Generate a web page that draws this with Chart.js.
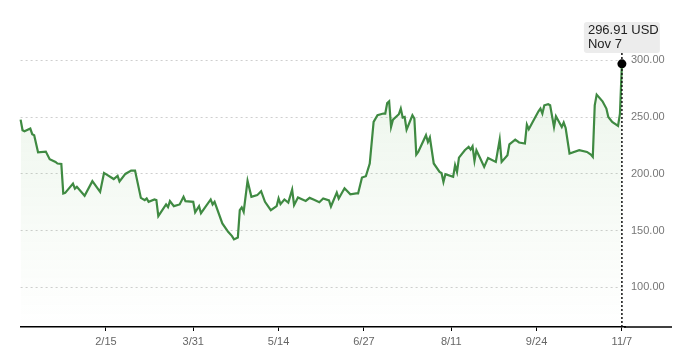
<!DOCTYPE html>
<html>
<head>
<meta charset="utf-8">
<script src="https://cdn.jsdelivr.net/npm/chart.js@4.4.1/dist/chart.umd.min.js"></script>
<style>
  html, body { margin: 0; padding: 0; background: #ffffff; }
  #wrap { width: 680px; height: 360px; position: relative; }
</style>
</head>
<body>
<div id="wrap"><canvas id="c" width="680" height="360"></canvas></div>
<script>
// Day index: days since Jan 1 (Jan 1 = 0)
const days = [1,2,3,6,7,8,10,14,16,19,20,22,23,24,28,29,30,34,38,42,44,49,51,52,55,58,60,63,65,66,67,70,71,72,76,77,78,80,83,85,86,90,91,93,94,99,100,101,105,108,110,111,113,114,115,116,118,120,123,125,127,130,133,134,135,137,139,141,142,144,148,150,152,155,157,160,161,164,165,168,171,174,175,177,179,181,183,185,188,189,190,191,192,193,196,197,198,199,200,203,204,205,206,210,211,212,214,217,218,219,220,224,225,226,227,230,232,233,234,235,236,238,240,242,246,248,249,252,253,256,258,261,262,263,265,268,269,270,271,273,274,276,277,280,281,282,284,289,293,295,296,297,298,301,303,304,306,309,310,311];
const prices = [247.8,238.4,237.5,239.9,234.9,234,219,219.6,212.9,210.5,209.1,208.7,182.7,183.2,191.4,187,188.5,180.6,193.5,184.1,200.8,195.4,198.2,193.3,199.9,202.9,202.9,178.8,176.8,178.3,175.3,177.4,176.8,162.7,173,170.6,175.9,171.5,173,179.8,175.9,175.3,166.1,171.5,165.3,177.4,173,175.3,156.3,148.9,145.1,142.2,143.9,168,170.4,166.5,193.8,179.7,181.2,184.7,175.3,168,171.5,178.3,173.3,177.4,174.7,186.1,172.4,179.1,176.1,178.8,177.4,175,178.3,176.5,171.2,183.5,178.3,187.3,182,182.7,182.7,196.7,197.9,209,245.7,251.6,253.1,253.1,262.4,263.9,241.3,247.8,252.5,257.5,249.6,250.1,239,251.6,248.7,217,219.3,234,228.1,232,209.1,201.7,200.8,192.9,199.6,197.3,207.6,201.7,214.3,220.8,223.7,221.4,224.3,211.4,220.8,213.5,206.1,214,210.5,230.2,210.5,216.4,226,230.2,227.6,226.7,243.4,239.3,245.7,255.1,257.5,253.1,260.4,261.3,260.4,241.3,250.7,241.3,245.2,240.4,217.9,220.8,219.3,217,214.9,260.4,269.8,263.9,257.5,250.1,245.7,242.2,253.1,296.91];
const tickDays = [45, 90, 134, 178, 223, 267, 311];
const tickLabels = ['2/15', '3/31', '5/14', '6/27', '8/11', '9/24', '11/7'];
const yTicks = [100, 150, 200, 250, 300];
const lastLabel = 'Nov 7';
const unit = 'USD';

const LINE = '#3f8a42';

const overlay = {
  id: 'overlay',
  afterDatasetsDraw(chart) {
    const ctx = chart.ctx;
    const meta = chart.getDatasetMeta(0);
    const pt = meta.data[meta.data.length - 1];
    const area = chart.chartArea;
    const val = prices[prices.length - 1];
    ctx.save();
    // tooltip box geometry
    const bw = 76, bh = 31;
    const bx = pt.x - bw / 2, by = 22;
    // dotted vertical line
    ctx.strokeStyle = '#111';
    ctx.lineWidth = 1.5;
    ctx.setLineDash([2, 2]);
    ctx.beginPath();
    ctx.moveTo(pt.x, by + bh);
    ctx.lineTo(pt.x, area.bottom);
    ctx.stroke();
    ctx.setLineDash([]);
    // dot
    ctx.fillStyle = '#000';
    ctx.beginPath();
    ctx.arc(pt.x, pt.y, 4.5, 0, Math.PI * 2);
    ctx.fill();
    // box
    ctx.fillStyle = '#ececec';
    ctx.beginPath();
    if (ctx.roundRect) ctx.roundRect(bx, by, bw, bh, 3); else ctx.rect(bx, by, bw, bh);
    ctx.fill();
    ctx.fillStyle = '#222';
    ctx.textBaseline = 'middle';
    ctx.textAlign = 'left';
    ctx.font = '13px "Liberation Sans", Arial, sans-serif';
    ctx.fillText(val.toFixed(2) + ' ' + unit, bx + 4, by + 8.5);
    ctx.fillText(lastLabel, bx + 4, by + 22.5);
    ctx.restore();
  },
  afterDraw(chart) {
    const ctx = chart.ctx;
    const area = chart.chartArea;
    ctx.save();
    ctx.strokeStyle = '#000';
    ctx.lineWidth = 1.5;
    ctx.beginPath();
    ctx.moveTo(area.right - 1, area.bottom);
    ctx.lineTo(672, area.bottom);
    ctx.stroke();
    ctx.restore();
  }
};

new Chart(document.getElementById('c'), {
  type: 'line',
  data: {
    datasets: [{
      data: days.map((d, i) => ({ x: d, y: prices[i] })),
      borderColor: LINE,
      borderWidth: 2.2,
      pointRadius: 0,
      tension: 0,
      fill: 'start',
      clip: false,
      backgroundColor: (c) => {
        const a = c.chart.chartArea;
        if (!a) return 'rgba(80,160,80,0.06)';
        const g = c.chart.ctx.createLinearGradient(0, a.top, 0, a.bottom);
        g.addColorStop(0, 'rgba(90,170,80,0.12)');
        g.addColorStop(1, 'rgba(90,170,80,0.0)');
        return g;
      }
    }]
  },
  options: {
    responsive: false,
    animation: false,
    events: [],
    layout: { padding: { left: 20.6, right: 12, top: 49, bottom: 0 } },
    plugins: { legend: { display: false }, tooltip: { enabled: false } },
    scales: {
      x: {
        type: 'linear',
        min: 1,
        max: 312.6,
        afterBuildTicks: (s) => { s.ticks = tickDays.map(v => ({ value: v })); },
        afterFit: (s) => { s.height = 33; },
        ticks: {
          autoSkip: false,
          maxRotation: 0,
          padding: 4,
          color: '#666',
          font: { family: '"Liberation Sans Narrow", "Liberation Sans", Arial, sans-serif', size: 11 },
          callback: (v) => { const i = tickDays.indexOf(v); return i >= 0 ? tickLabels[i] : ''; }
        },
        grid: { drawOnChartArea: false, drawTicks: true, tickLength: 4, color: '#000', tickWidth: 1 },
        border: { display: true, color: '#000', width: 1.5 }
      },
      y: {
        position: 'right',
        min: 65,
        max: 310,
        afterBuildTicks: (s) => { s.ticks = yTicks.map(v => ({ value: v })); },
        afterFit: (s) => { s.width = 43; },
        ticks: {
          padding: 6,
          color: '#777',
          font: { family: '"Liberation Sans", Arial, sans-serif', size: 11 },
          callback: (v) => Number(v).toFixed(2)
        },
        grid: { drawTicks: false, color: '#cfcfcf', lineWidth: 1 },
        border: { display: false, dash: [2, 3] }
      }
    }
  },
  plugins: [overlay]
});
</script>
</body>
</html>
